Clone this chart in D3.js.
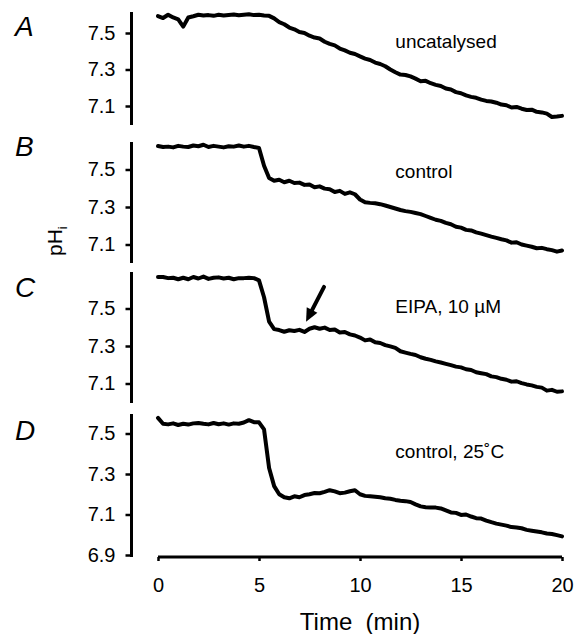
<!DOCTYPE html>
<html>
<head>
<meta charset="utf-8">
<script src="https://cdn.jsdelivr.net/npm/d3@7"></script>
<style>
  html, body { margin: 0; padding: 0; background: #fff; }
  svg { display: block; }
  text { font-family: "Liberation Sans", Arial, Helvetica, sans-serif; fill: #000; }
</style>
</head>
<body>
<svg id="chart" width="580" height="634"></svg>
<script>
// ---------- data ----------
const time = [0,0.25,0.5,0.75,1,1.25,1.5,1.75,2,2.25,2.5,2.75,3,3.25,3.5,3.75,4,4.25,4.5,4.75,
  5,5.25,5.5,5.75,6,6.25,6.5,6.75,7,7.25,7.5,7.75,8,8.25,8.5,8.75,9,9.25,9.5,9.75,
  10,10.25,10.5,10.75,11,11.25,11.5,11.75,12,12.25,12.5,12.75,13,13.25,13.5,13.75,14,14.25,14.5,14.75,
  15,15.25,15.5,15.75,16,16.25,16.5,16.75,17,17.25,17.5,17.75,18,18.25,18.5,18.75,19,19.25,19.5,19.75,20];

const pHiA = [7.593,7.582,7.600,7.585,7.575,7.535,7.585,7.592,7.600,7.596,7.598,7.594,7.600,7.596,7.599,7.601,7.597,7.600,7.603,7.598,
  7.600,7.596,7.594,7.580,7.560,7.548,7.530,7.520,7.505,7.500,7.485,7.475,7.470,7.452,7.440,7.432,7.415,7.405,7.392,7.385,
  7.372,7.360,7.352,7.338,7.330,7.318,7.300,7.285,7.272,7.270,7.262,7.250,7.236,7.238,7.225,7.216,7.210,7.196,7.190,7.176,
  7.170,7.158,7.150,7.145,7.135,7.128,7.125,7.118,7.108,7.104,7.092,7.095,7.085,7.078,7.080,7.068,7.065,7.058,7.040,7.042,7.046];

const pHiB = [7.625,7.620,7.622,7.618,7.626,7.622,7.620,7.628,7.624,7.632,7.620,7.626,7.622,7.618,7.624,7.622,7.628,7.622,7.626,7.620,
  7.615,7.520,7.455,7.440,7.445,7.432,7.440,7.428,7.430,7.418,7.420,7.405,7.410,7.398,7.395,7.380,7.386,7.370,7.378,7.368,
  7.340,7.325,7.322,7.320,7.315,7.308,7.300,7.292,7.284,7.278,7.274,7.268,7.262,7.252,7.242,7.232,7.226,7.215,7.208,7.195,
  7.190,7.178,7.175,7.165,7.158,7.150,7.142,7.135,7.128,7.122,7.110,7.112,7.100,7.094,7.088,7.080,7.082,7.075,7.070,7.062,7.068];

const pHiC = [7.668,7.668,7.662,7.664,7.656,7.664,7.656,7.668,7.660,7.670,7.658,7.664,7.666,7.660,7.664,7.656,7.662,7.662,7.664,7.662,
  7.650,7.560,7.430,7.390,7.385,7.376,7.384,7.380,7.386,7.375,7.392,7.400,7.392,7.398,7.385,7.388,7.372,7.375,7.362,7.356,
  7.345,7.330,7.335,7.320,7.316,7.305,7.298,7.290,7.272,7.265,7.258,7.252,7.240,7.232,7.226,7.218,7.212,7.205,7.198,7.190,
  7.186,7.176,7.172,7.160,7.155,7.150,7.138,7.134,7.125,7.120,7.110,7.112,7.102,7.095,7.090,7.082,7.078,7.062,7.066,7.056,7.058];

const pHiD = [7.577,7.548,7.545,7.550,7.542,7.548,7.544,7.550,7.552,7.548,7.545,7.552,7.546,7.550,7.544,7.550,7.548,7.554,7.566,7.556,
  7.555,7.520,7.330,7.240,7.200,7.185,7.180,7.190,7.185,7.196,7.200,7.206,7.205,7.212,7.220,7.214,7.205,7.208,7.215,7.220,
  7.200,7.192,7.190,7.188,7.185,7.180,7.178,7.172,7.168,7.166,7.162,7.150,7.140,7.136,7.135,7.134,7.130,7.120,7.110,7.108,
  7.098,7.100,7.090,7.082,7.080,7.070,7.062,7.055,7.050,7.045,7.038,7.036,7.032,7.024,7.020,7.016,7.012,7.006,7.004,6.998,6.992];

const panelLetters = ["A", "B", "C", "D"];
const panelLabels = ["uncatalysed", "control", "EIPA, 10 \u00B5M", "control, 25\u02DAC"];
const yTicksABC = [7.1, 7.3, 7.5];
const yTicksD = [6.9, 7.1, 7.3, 7.5];
const xTicks = [0, 5, 10, 15, 20];
// arrow in panel C: [time, pHi] of tail and tip
const arrowC = { tail: [8.22, 7.615], tip: [7.33, 7.43] };

// ---------- layout ----------
const svg = d3.select("#chart");
const axisX = 131.5;
const x = d3.scaleLinear().domain([0, 20]).range([158, 562]);

// each panel: y scale anchored on two tick pixel positions, axis extent
const panels = [
  { series: pHiA, ticks: yTicksABC, lo: 7.1, hi: 7.5, yLo: 106, yHi: 33,    top: 12,  bottom: 125, letterY: 36,  labelY: 48 },
  { series: pHiB, ticks: yTicksABC, lo: 7.1, hi: 7.5, yLo: 244.5, yHi: 169.5, top: 142, bottom: 263, letterY: 156, labelY: 178 },
  { series: pHiC, ticks: yTicksABC, lo: 7.1, hi: 7.5, yLo: 383.5, yHi: 308.5, top: 272, bottom: 403, letterY: 297, labelY: 313 },
  { series: pHiD, ticks: yTicksD,   lo: 6.9, hi: 7.5, yLo: 555, yHi: 433.5,   top: 414, bottom: 557, letterY: 440, labelY: 458 }
];

panels.forEach((p, i) => {
  const y = d3.scaleLinear().domain([p.lo, p.hi]).range([p.yLo, p.yHi]);
  p.y = y;

  // axis line
  svg.append("line")
    .attr("x1", axisX).attr("x2", axisX)
    .attr("y1", p.top).attr("y2", p.bottom)
    .attr("stroke", "#000").attr("stroke-width", 3);

  const ax = d3.axisLeft(y).tickValues(p.ticks).tickSize(6).tickPadding(10)
    .tickFormat(d3.format(".1f"));
  const g = svg.append("g").attr("transform", `translate(${axisX},0)`).call(ax);
  g.select(".domain").remove();
  g.selectAll(".tick line").attr("stroke", "#000").attr("stroke-width", 2.5);
  g.selectAll(".tick text")
    .style("font-family", '"Liberation Sans", Arial, Helvetica, sans-serif')
    .style("font-size", "20px").attr("fill", "#000");

  // trace
  const line = d3.line().x((d, k) => x(time[k])).y(d => y(d));
  svg.append("path")
    .datum(p.series)
    .attr("d", line)
    .attr("fill", "none")
    .attr("stroke", "#000")
    .attr("stroke-width", 4)
    .attr("stroke-linejoin", "round")
    .attr("stroke-linecap", "round");

  // panel letter
  svg.append("text")
    .attr("x", 15).attr("y", p.letterY)
    .style("font-size", "28px").style("font-style", "italic")
    .text(panelLetters[i]);

  // condition label
  svg.append("text")
    .attr("x", x(11.75)).attr("y", p.labelY)
    .style("font-size", "19px")
    .text(panelLabels[i]);
});

// arrow in panel C
const yC = panels[2].y;
const tail = [x(arrowC.tail[0]), yC(arrowC.tail[1])];
const tip = [x(arrowC.tip[0]), yC(arrowC.tip[1])];
const ang = Math.atan2(tip[1] - tail[1], tip[0] - tail[0]);
const headLen = 13, headW = 6;
const base = [tip[0] - headLen * Math.cos(ang), tip[1] - headLen * Math.sin(ang)];
svg.append("line")
  .attr("x1", tail[0]).attr("y1", tail[1])
  .attr("x2", base[0]).attr("y2", base[1])
  .attr("stroke", "#000").attr("stroke-width", 4).attr("stroke-linecap", "round");
svg.append("path")
  .attr("d", d3.line()([
    tip,
    [base[0] + headW * Math.sin(ang), base[1] - headW * Math.cos(ang)],
    [base[0] - headW * Math.sin(ang), base[1] + headW * Math.cos(ang)]
  ]) + "Z")
  .attr("fill", "#000");

// x axis
const xAxisY = 557;
svg.append("line")
  .attr("x1", x(0)).attr("x2", x(20))
  .attr("y1", xAxisY).attr("y2", xAxisY)
  .attr("stroke", "#000").attr("stroke-width", 3);
const xg = svg.append("g").attr("transform", `translate(0,${xAxisY})`)
  .call(d3.axisBottom(x).tickValues(xTicks).tickSize(4).tickPadding(16.5));
xg.select(".domain").remove();
xg.selectAll(".tick line").attr("stroke", "#000").attr("stroke-width", 2.5);
xg.selectAll(".tick text")
  .style("font-family", '"Liberation Sans", Arial, Helvetica, sans-serif')
  .style("font-size", "20px").attr("fill", "#000");

svg.append("text")
  .attr("x", (x(0) + x(20)) / 2).attr("y", 630)
  .attr("text-anchor", "middle")
  .style("font-size", "24px")
  .style("white-space", "pre")
  .attr("xml:space", "preserve")
  .text("Time  (min)");

// y label pHi
const yl = svg.append("text")
  .attr("transform", "translate(62,256) rotate(-90)")
  .style("font-size", "21px");
yl.append("tspan").text("pH");
yl.append("tspan").text("i").style("font-size", "13px").attr("dy", 5);
</script>
</body>
</html>
